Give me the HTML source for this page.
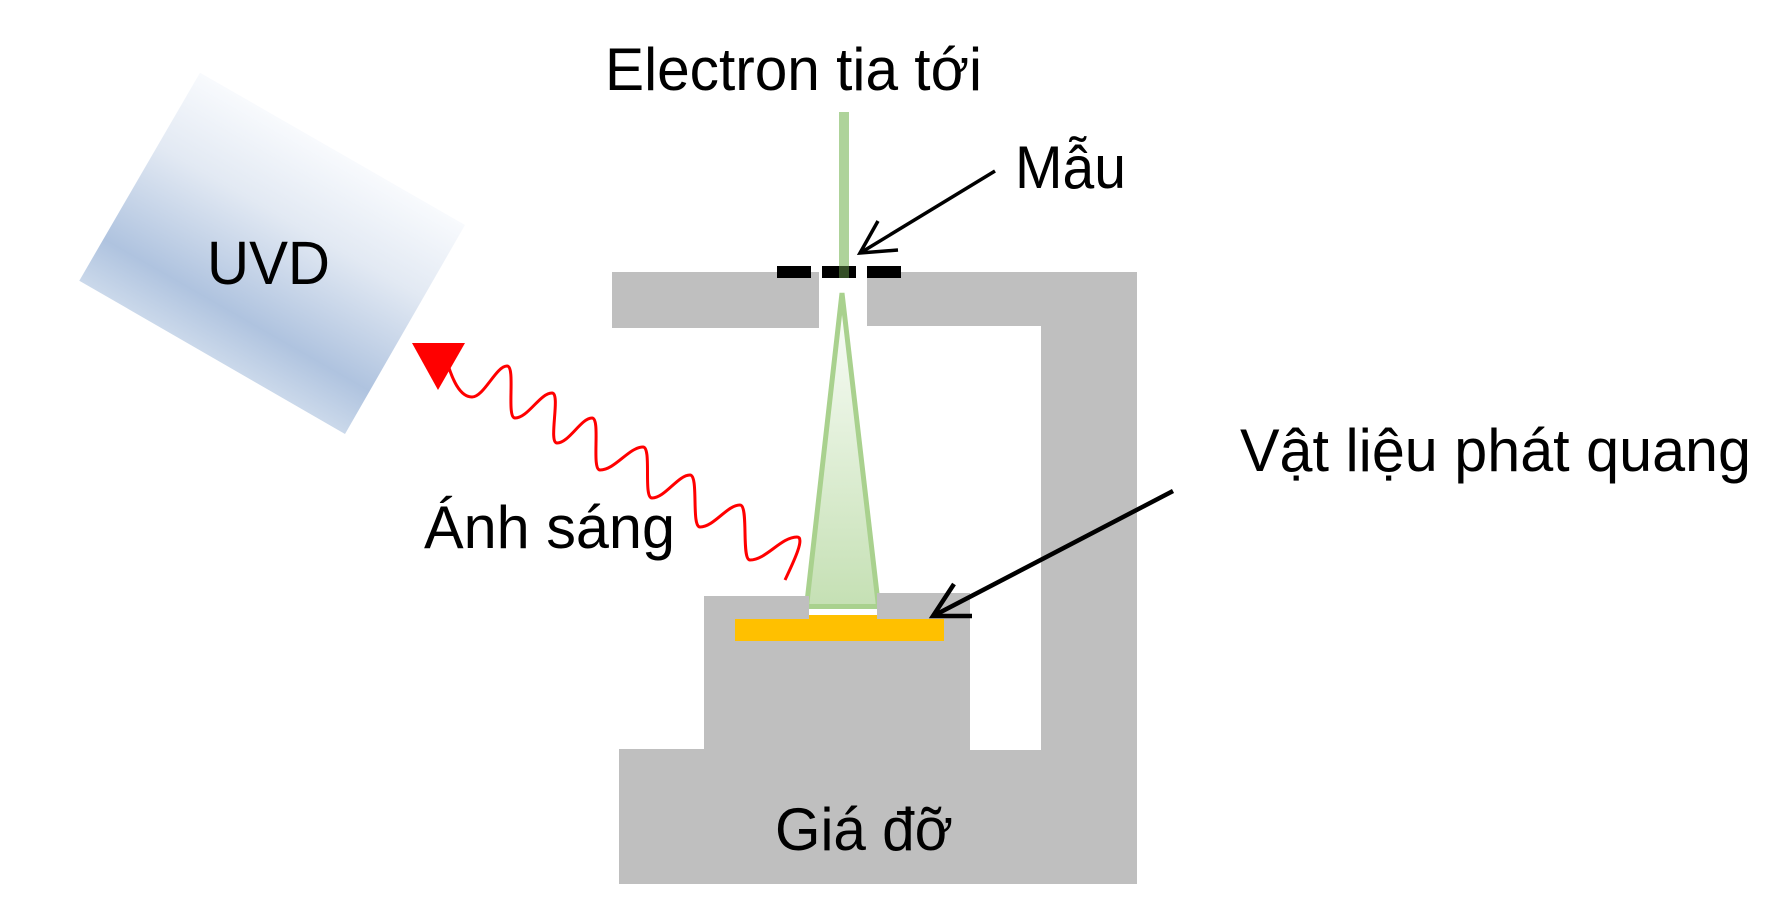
<!DOCTYPE html>
<html>
<head>
<meta charset="utf-8">
<style>
  html,body{margin:0;padding:0;background:#ffffff;}
  body{width:1786px;height:920px;overflow:hidden;}
  svg{display:block;}
  text{font-family:"Liberation Sans", Arial, sans-serif; fill:#000;}
</style>
</head>
<body>
<svg width="1786" height="920" viewBox="0 0 1786 920" xmlns="http://www.w3.org/2000/svg">
  <defs>
    <linearGradient id="uvd" gradientUnits="userSpaceOnUse" x1="332" y1="149" x2="213" y2="357">
      <stop offset="0" stop-color="#F8FAFD"/>
      <stop offset="0.35" stop-color="#E2E9F3"/>
      <stop offset="0.8" stop-color="#AFC3DF"/>
      <stop offset="1" stop-color="#CAD8EA"/>
    </linearGradient>
    <linearGradient id="cone" gradientUnits="userSpaceOnUse" x1="0" y1="292" x2="0" y2="606">
      <stop offset="0" stop-color="#FCFEFB"/>
      <stop offset="1" stop-color="#C5E0B4"/>
    </linearGradient>
  </defs>

  <!-- UVD detector -->
  <polygon points="200,72.7 465,225 345,434 79.3,280.7" fill="url(#uvd)"/>

  <!-- electron cone -->
  <polygon points="842,293 806.5,606.5 878.5,606.5" fill="url(#cone)" stroke="#A9D18E" stroke-width="5" stroke-linejoin="miter"/>

  <!-- gray structure -->
  <rect x="612" y="272" width="207" height="56" fill="#BFBFBF"/>
  <path d="M867,272 L1137,272 L1137,884 L619,884 L619,749 L704,749 L704,596 L809,596 L809,619 L877,619 L877,593 L970,593 L970,750 L1041,750 L1041,326 L867,326 Z" fill="#BFBFBF"/>

  <!-- luminescent material (yellow) -->
  <rect x="735" y="619" width="209" height="22" fill="#FFC000"/>
  <rect x="809" y="615" width="68" height="5" fill="#FFC000"/>

  <!-- incident beam -->
  <rect x="839" y="112" width="10" height="166" fill="#AED39A"/>

  <!-- sample dashes -->
  <rect x="777" y="266" width="34" height="12" fill="#000"/>
  <rect x="822" y="266" width="34" height="12" fill="#000"/>
  <rect x="867" y="266" width="34" height="12" fill="#000"/>
  <rect x="839" y="266" width="10" height="12" fill="#344E26"/>

  <!-- Mẫu arrow -->
  <line x1="995" y1="171" x2="861" y2="252.5" stroke="#000" stroke-width="3.5"/>
  <polyline points="878,221 860,253 898,250" fill="none" stroke="#000" stroke-width="3.5" stroke-linejoin="miter"/>

  <!-- Vật liệu phát quang arrow -->
  <line x1="1173" y1="491" x2="935" y2="615" stroke="#000" stroke-width="4.5"/>
  <polyline points="954,584 933,616 972,616" fill="none" stroke="#000" stroke-width="4.5" stroke-linejoin="miter"/>

  <!-- light wave -->
  <path d="M446,358 C452,380 460,397 472,397
           C484,397 496,366 507,366
           C516,366 506,418 515,418
           C528,418 540,393 552,393
           C561,393 548,443 557,443
           C569,443 581,418 592,418
           C601,418 591,470 600,470
           C615,470 629,447 643,447
           C652,447 643,498 652,498
           C665,498 678,475 690,475
           C699,475 691,527 700,527
           C714,527 727,505 740,505
           C749,505 741,560 750,560
           C766,560 781,537 797,537
           C806,537 792,565 785,580"
        fill="none" stroke="#FF0000" stroke-width="3" stroke-linecap="butt"/>
  <polygon points="412,343 465,343 438,390" fill="#FF0000"/>

  <!-- labels -->
  <text x="605" y="90" font-size="60" textLength="377" lengthAdjust="spacingAndGlyphs">Electron tia tới</text>
  <text x="1015" y="188" font-size="60" textLength="111" lengthAdjust="spacingAndGlyphs">Mẫu</text>
  <text x="207" y="284" font-size="61" textLength="123" lengthAdjust="spacingAndGlyphs">UVD</text>
  <text x="1240" y="471" font-size="60" textLength="511" lengthAdjust="spacingAndGlyphs">Vật liệu phát quang</text>
  <text x="424" y="548" font-size="60" textLength="251" lengthAdjust="spacingAndGlyphs">Ánh sáng</text>
  <text x="775" y="850" font-size="60" textLength="178" lengthAdjust="spacingAndGlyphs">Giá đỡ</text>
</svg>
</body>
</html>
